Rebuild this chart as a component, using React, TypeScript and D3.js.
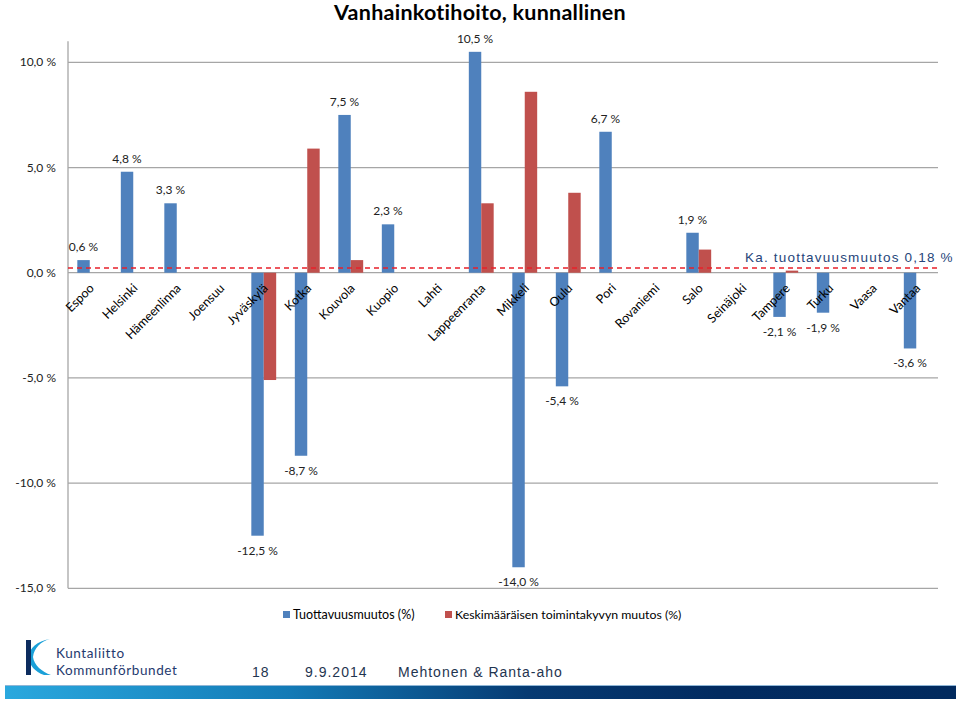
import React from "react";
import * as d3 from "d3";

const categories = [
  "Espoo", "Helsinki", "Hämeenlinna", "Joensuu", "Jyväskylä", "Kotka", "Kouvola",
  "Kuopio", "Lahti", "Lappeenranta", "Mikkeli", "Oulu", "Pori", "Rovaniemi",
  "Salo", "Seinäjoki", "Tampere", "Turku", "Vaasa", "Vantaa",
];
const productivity: (number | null)[] = [
  0.6, 4.8, 3.3, null, -12.5, -8.7, 7.5, 2.3, null, 10.5, -14.0, -5.4, 6.7, null,
  1.9, null, -2.1, -1.9, null, -3.6,
];
const capability: (number | null)[] = [
  null, null, null, null, -5.1, 5.9, 0.6, null, null, 3.3, 8.6, 3.8, null, null,
  1.1, null, 0.1, null, null, null,
];
const yTicks = [-15, -10, -5, 0, 5, 10];
const averageProductivity = 0.18;
const seriesNames = ["Tuottavuusmuutos (%)", "Keskimääräisen toimintakyvyn muutos (%)"];
const title = "Vanhainkotihoito, kunnallinen";
const averageLabel = "Ka. tuottavuusmuutos 0,18 %";

const BLUE = "#4f81bd";
const RED = "#c0504d";
const GRID = "#a6a6a6";
const FONT = "Lato, 'Open Sans', sans-serif";
const FOOT = "'Liberation Sans', Arial, sans-serif";

const fmt = (v: number) => v.toFixed(1).replace(".", ",") + " %";

export default function App() {
  const W = 960, H = 701;
  const left = 68, right = 938;
  const y = d3.scaleLinear().domain([-15, 11]).range([588.3, 41.3]);
  const x = d3.scaleBand().domain(categories).range([left, right]).paddingInner(0).paddingOuter(0);
  const sub = d3.scaleBand().domain(["a", "b"]).range([0, x.bandwidth()]).paddingInner(0).paddingOuter(0.75);
  const y0 = y(0);

  return (
    <svg width={W} height={H} style={{ position: "absolute", left: 0, top: 0, background: "#fff" }}>
      <defs>
        <linearGradient id="footGrad" x1="0" x2="1" y1="0" y2="0">
          <stop offset="0%" stopColor="#2aa8de" />
          <stop offset="30%" stopColor="#137ab6" />
          <stop offset="55%" stopColor="#063a72" />
          <stop offset="75%" stopColor="#022b60" />
          <stop offset="100%" stopColor="#012a5e" />
        </linearGradient>
      </defs>

      <text x={480} y={20} textAnchor="middle" fontFamily={FONT} fontWeight={700} fontSize={21.5} letterSpacing={0.25} fill="#000">
        {title}
      </text>

      {/* gridlines */}
      {yTicks.map((t) => (
        <line key={"g" + t} x1={left} x2={right} y1={y(t)} y2={y(t)} stroke={GRID} strokeWidth={1.3} />
      ))}
      <line x1={left} x2={left} y1={y(11)} y2={y(-15)} stroke={GRID} strokeWidth={1.3} />

      {/* y tick labels */}
      {yTicks.map((t) => (
        <text key={"t" + t} x={56} y={y(t) + 4} textAnchor="end" fontFamily={FONT} fontSize={12} fill="#222">
          {fmt(t)}
        </text>
      ))}

      {/* bars */}
      {categories.map((c, i) => {
        const bx = x(c)!;
        const p = productivity[i];
        const k = capability[i];
        return (
          <g key={c}>
            {p !== null && (
              <rect x={bx + sub("a")!} width={sub.bandwidth()} y={Math.min(y(p), y0)} height={Math.abs(y(p) - y0)} fill={BLUE} />
            )}
            {k !== null && (
              <rect x={bx + sub("b")!} width={sub.bandwidth()} y={Math.min(y(k), y0)} height={Math.abs(y(k) - y0)} fill={RED} />
            )}
          </g>
        );
      })}

      {/* average dashed line */}
      <line x1={left} x2={right} y1={y(averageProductivity) - 1} y2={y(averageProductivity) - 1} stroke="#e8202a" strokeWidth={1.4} strokeDasharray="5,4" />
      <text x={745} y={262} fontFamily={FOOT} fontSize={13.5} letterSpacing={1.2} fill="#26457a">
        {averageLabel}
      </text>

      {/* category labels */}
      {categories.map((c) => {
        const cx = x(c)! + x.bandwidth() / 2 + 5;
        const cy = 289;
        return (
          <text key={"l" + c} x={cx} y={cy} textAnchor="end" transform={`rotate(-45 ${cx} ${cy})`} fontFamily={FONT} fontSize={12.5} fill="#000">
            {c}
          </text>
        );
      })}

      {/* data labels */}
      {categories.map((c, i) => {
        const p = productivity[i];
        if (p === null) return null;
        const cx = x(c)! + sub("a")! + sub.bandwidth() / 2;
        const ty = p >= 0 ? y(p) - 9 : y(p) + 19;
        return (
          <text key={"d" + c} x={cx} y={ty} textAnchor="middle" fontFamily={FONT} fontSize={12} fill="#222">
            {fmt(p)}
          </text>
        );
      })}

      {/* legend */}
      <rect x={283} y={611} width={7} height={7} fill={BLUE} />
      <text x={293} y={618.5} fontFamily={FONT} fontSize={12.5} fill="#000">{seriesNames[0]}</text>
      <rect x={445} y={611} width={7} height={7} fill={RED} />
      <text x={455} y={618.5} fontFamily={FONT} fontSize={12.3} fill="#000">{seriesNames[1]}</text>

      {/* logo */}
      <path d="M50,639 C41,641 34,648 33,657 C34,665 42,672 51,675 L44,675 C35,672 29,665 29,657 C29,648 37,641 50,639 Z" fill="#1aa0d8" />
      <rect x={26} y={640} width={5} height={35} fill="#0d2c5e" />
      <text x={56} y={658} fontFamily={FONT} fontSize={13.5} letterSpacing={0.6} fill="#1f3a6e">Kuntaliitto</text>
      <text x={56} y={674.5} fontFamily={FONT} fontSize={13.5} letterSpacing={0.6} fill="#1f3a6e">Kommunförbundet</text>

      {/* footer */}
      <text x={252} y={677} fontFamily={FOOT} fontSize={14} letterSpacing={1} fill="#1f3550">18</text>
      <text x={305} y={677} fontFamily={FOOT} fontSize={14} letterSpacing={1} fill="#1f3550">9.9.2014</text>
      <text x={398} y={677} fontFamily={FOOT} fontSize={14} letterSpacing={1} fill="#1f3550">Mehtonen &amp; Ranta-aho</text>
      <rect x={5} y={685} width={951} height={14} fill="url(#footGrad)" />
      <line x1={5} x2={956} y1={685.5} y2={685.5} stroke="#8fb6d6" strokeWidth={1} />
    </svg>
  );
}
